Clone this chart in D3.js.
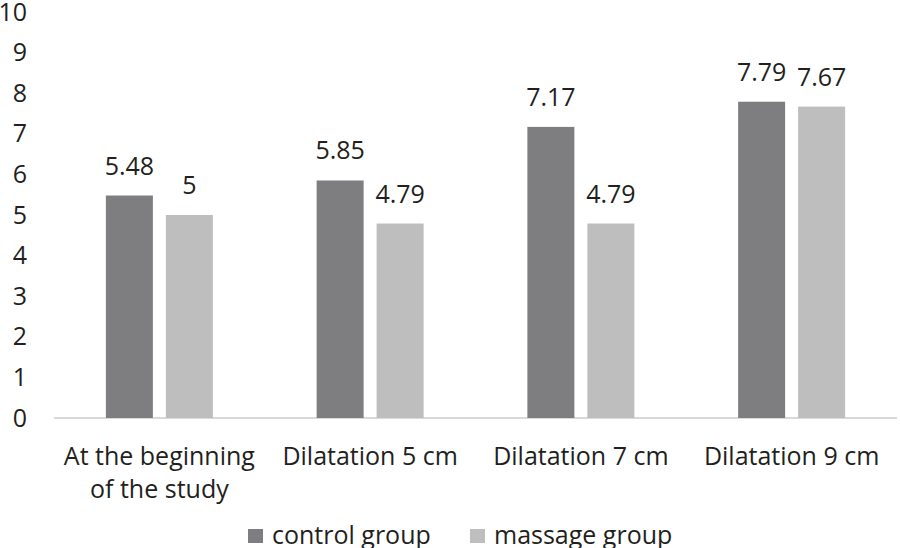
<!DOCTYPE html>
<html>
<head>
<meta charset="utf-8">
<script src="https://cdn.jsdelivr.net/npm/d3@7"></script>
<style>
  body { margin: 0; background: #fff; }
  text { font-family: "Open Sans", sans-serif; fill: #231f20; }
</style>
</head>
<body>
<svg id="chart" width="900" height="548"></svg>
<script>
// chart data
var categories = [["At the beginning", "of the study"], ["Dilatation 5 cm"], ["Dilatation 7 cm"], ["Dilatation 9 cm"]];
var seriesNames = ["control group", "massage group"];
var controlValues = [5.48, 5.85, 7.17, 7.79];
var massageValues = [5, 4.79, 4.79, 7.67];
var yTicks = [0, 1, 2, 3, 4, 5, 6, 7, 8, 9, 10];
var colors = ["#7e7e80", "#bebebf"];

var svg = d3.select("#chart"),
    plotLeft = 54, plotRight = 897, plotTop = 12, plotBottom = 418,
    fontSize = 25;

var x = d3.scaleBand()
    .domain(d3.range(categories.length))
    .range([plotLeft, plotRight]);

var y = d3.scaleLinear()
    .domain([0, 10])
    .range([plotBottom, plotTop]);

var barW = 47, gap = 13;

// y axis labels
var yAxis = svg.append("g")
    .attr("transform", "translate(27,0)")
    .call(d3.axisLeft(y).tickValues(yTicks).tickSize(0).tickPadding(0));
yAxis.select(".domain").remove();
yAxis.selectAll("text")
    .attr("font-size", fontSize)
    .attr("font-family", "Open Sans, sans-serif")
    .attr("fill", "#231f20");

// baseline
svg.append("line")
    .attr("x1", plotLeft).attr("x2", plotRight)
    .attr("y1", y(0)).attr("y2", y(0))
    .attr("stroke", "#d9d9d9")
    .attr("stroke-width", 2);

var series = [controlValues, massageValues];
series.forEach(function (vals, s) {
    var offset = s === 0 ? -gap / 2 - barW : gap / 2;
    var g = svg.append("g");
    g.selectAll("rect")
        .data(vals)
        .enter().append("rect")
        .attr("x", function (d, i) { return x(i) + x.bandwidth() / 2 + offset; })
        .attr("y", function (d) { return y(d); })
        .attr("width", barW)
        .attr("height", function (d) { return y(0) - y(d); })
        .attr("fill", colors[s]);
    g.selectAll("text")
        .data(vals)
        .enter().append("text")
        .attr("x", function (d, i) { return x(i) + x.bandwidth() / 2 + offset + barW / 2; })
        .attr("y", function (d) { return y(d) - 21; })
        .attr("text-anchor", "middle")
        .attr("font-size", fontSize)
        .text(function (d) { return d; });
});

// category labels
categories.forEach(function (lines, i) {
    var cx = x(i) + x.bandwidth() / 2;
    var t = svg.append("text")
        .attr("x", cx)
        .attr("y", 465)
        .attr("text-anchor", "middle")
        .attr("font-size", fontSize);
    lines.forEach(function (line, j) {
        t.append("tspan")
            .attr("x", cx)
            .attr("dy", j === 0 ? 0 : 33)
            .text(line);
    });
});

// legend
var legendX = [248, 470];
seriesNames.forEach(function (name, s) {
    svg.append("rect")
        .attr("x", legendX[s]).attr("y", 529)
        .attr("width", 15).attr("height", 14)
        .attr("fill", colors[s]);
    svg.append("text")
        .attr("x", legendX[s] + 24).attr("y", 544)
        .attr("font-size", fontSize)
        .text(name);
});
</script>
</body>
</html>
